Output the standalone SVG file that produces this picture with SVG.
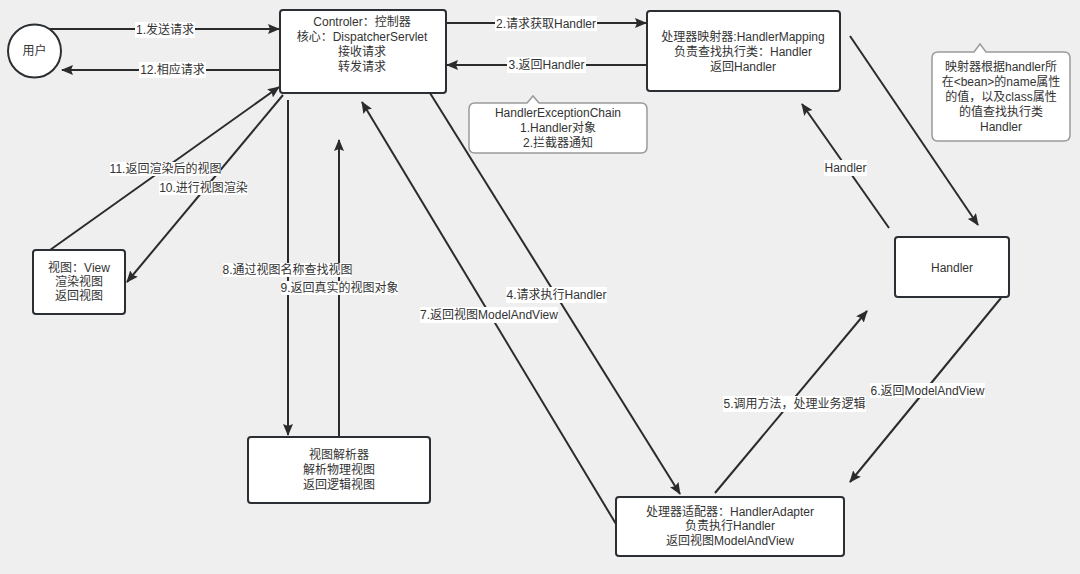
<svg xmlns="http://www.w3.org/2000/svg" width="1080" height="574" viewBox="0 0 1080 574">
<defs>
<marker id="ah" viewBox="0 0 12 10" refX="11" refY="5" markerWidth="12" markerHeight="10" markerUnits="userSpaceOnUse" orient="auto">
<path d="M0,0 L12,5 L0,10 L2,5 Z" fill="#2b2b2b"/>
</marker>
<style>
text{font-family:"Liberation Sans","Noto Sans CJK SC",sans-serif;font-size:12px;fill:#333;text-anchor:middle}
.box{fill:#fff;stroke:#2b2f33;stroke-width:2}
.call{fill:#fff;stroke:#9a9a9a;stroke-width:1.5}
.ln{stroke:#2b2b2b;stroke-width:2;fill:none}
.arr{marker-end:url(#ah)}
.lb{fill:#fff}
</style>
</defs>
<rect width="1080" height="574" fill="#efefef"/>

<g id="connectors">
<line class="ln arr" x1="47" y1="29" x2="279" y2="29"/>
<line class="ln arr" x1="279" y1="70" x2="62" y2="70"/>
<line class="ln arr" x1="447" y1="23" x2="646" y2="23"/>
<line class="ln arr" x1="646" y1="65" x2="447" y2="65"/>
<line class="ln arr" x1="850" y1="36" x2="978" y2="225"/>
<line class="ln arr" x1="889" y1="228" x2="802" y2="104"/>
<line class="ln arr" x1="1001" y1="298" x2="850" y2="482"/>
<line class="ln arr" x1="715" y1="493" x2="867" y2="311"/>
<line class="ln arr" x1="430" y1="93" x2="680" y2="494"/>
<line class="ln arr" x1="616" y1="524" x2="362" y2="102"/>
<line class="ln arr" x1="288" y1="100" x2="288" y2="435"/>
<line class="ln arr" x1="339" y1="437" x2="339" y2="140"/>
<line class="ln arr" x1="50" y1="250" x2="279" y2="87"/>
<line class="ln arr" x1="283" y1="95" x2="127" y2="282"/>

<rect class="lb" x="135" y="22" width="60" height="16"/><text x="165" y="34">1.发送请求</text>
<rect class="lb" x="139" y="62" width="67" height="16"/><text x="172.5" y="74">12.相应请求</text>
<rect class="lb" x="495" y="16" width="102" height="15"/><text x="546" y="27.5">2.请求获取Handler</text>
<rect class="lb" x="507" y="57" width="79" height="16"/><text x="546.5" y="69">3.返回Handler</text>
<rect class="lb" x="824" y="160" width="43" height="16"/><text x="845.5" y="172">Handler</text>
<rect class="lb" x="110" y="162" width="111" height="14"/><text x="165.5" y="173">11.返回渲染后的视图</text>
<rect class="lb" x="159" y="181" width="89" height="14"/><text x="203.5" y="192">10.进行视图渲染</text>
<rect class="lb" x="223" y="263" width="129" height="14"/><text x="287.5" y="274">8.通过视图名称查找视图</text>
<rect class="lb" x="281" y="281" width="117" height="14"/><text x="339.5" y="292">9.返回真实的视图对象</text>
<rect class="lb" x="506" y="287" width="101" height="16"/><text x="556.5" y="299">4.请求执行Handler</text>
<rect class="lb" x="420" y="307" width="138" height="16"/><text x="489" y="319">7.返回视图ModelAndView</text>
<rect class="lb" x="723" y="396" width="143" height="16"/><text x="794.5" y="408">5.调用方法，处理业务逻辑</text>
<rect class="lb" x="870" y="383" width="115" height="15"/><text x="927.5" y="394.5">6.返回ModelAndView</text>
</g>

<g id="user">
<circle cx="34.5" cy="51" r="26.5" fill="#fff" stroke="#2b2f33" stroke-width="2"/>
<text x="34.5" y="55">用户</text>
</g>

<g id="controller">
<rect class="box" x="280" y="10" width="166" height="83" rx="3"/>
<text x="362" y="26">Controler：控制器</text>
<text x="362" y="41">核心：DispatcherServlet</text>
<text x="362" y="56">接收请求</text>
<text x="362" y="71">转发请求</text>
</g>

<g id="handlerMapping">
<rect class="box" x="647" y="11" width="193" height="80" rx="3"/>
<text x="743" y="41">处理器映射器:HandlerMapping</text>
<text x="743" y="56">负责查找执行类：Handler</text>
<text x="743" y="71">返回Handler</text>
</g>

<g id="exceptionChainNote">
<path class="call" d="M475,103 L527,103 L533,96 L539,103 L641,103 Q647,103 647,109 L647,147 Q647,153 641,153 L475,153 Q469,153 469,147 L469,109 Q469,103 475,103 Z"/>
<text x="558" y="117">HandlerExceptionChain</text>
<text x="558" y="132">1.Handler对象</text>
<text x="558" y="147">2.拦截器通知</text>
</g>

<g id="mappingNote">
<path class="call" d="M938,52 L974,52 L980,44 L986,52 L1064,52 Q1070,52 1070,58 L1070,135 Q1070,141 1064,141 L938,141 Q932,141 932,135 L932,58 Q932,52 938,52 Z"/>
<text x="1001" y="71">映射器根据handler所</text>
<text x="1001" y="86">在&lt;bean&gt;的name属性</text>
<text x="1001" y="101">的值，以及class属性</text>
<text x="1001" y="116">的值查找执行类</text>
<text x="1001" y="131">Handler</text>
</g>

<g id="handler">
<rect class="box" x="895" y="237" width="114" height="60" rx="3"/>
<text x="952" y="272">Handler</text>
</g>

<g id="handlerAdapter">
<rect class="box" x="616" y="497" width="228" height="59" rx="3"/>
<text x="730" y="516">处理器适配器：HandlerAdapter</text>
<text x="730" y="530">负责执行Handler</text>
<text x="730" y="545">返回视图ModelAndView</text>
</g>

<g id="viewResolver">
<rect class="box" x="248" y="437" width="182" height="66" rx="3"/>
<text x="339" y="459">视图解析器</text>
<text x="339" y="474">解析物理视图</text>
<text x="339" y="489">返回逻辑视图</text>
</g>

<g id="view">
<rect class="box" x="33" y="250" width="92" height="64" rx="3"/>
<text x="79" y="272">视图：View</text>
<text x="79" y="286">渲染视图</text>
<text x="79" y="300">返回视图</text>
</g>
</svg>
